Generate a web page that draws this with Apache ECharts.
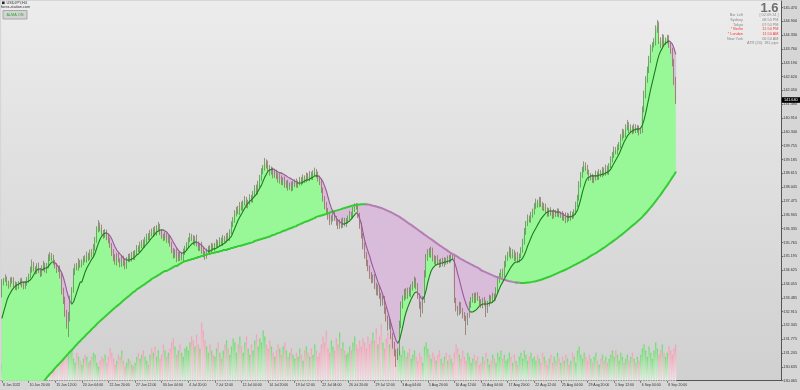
<!DOCTYPE html>
<html><head><meta charset="utf-8">
<script src="https://cdn.jsdelivr.net/npm/echarts@6/dist/echarts.min.js"></script>
<style>html,body{margin:0;padding:0;background:#d6d6d6;}#c{width:800px;height:390px;}</style>
</head><body><div id="c"></div>
<script>
// ---- DATA (USDJPY, H4) ----
const tickLabels = ['8 Jun 2022','10 Jun 20:00','15 Jun 12:00','20 Jun 04:00','22 Jun 20:00','27 Jun 12:00','30 Jun 04:00','4 Jul 20:00','7 Jul 12:00','12 Jul 04:00','14 Jul 20:00','19 Jul 12:00','22 Jul 04:00','26 Jul 20:00','29 Jul 12:00','3 Aug 04:00','5 Aug 20:00','10 Aug 12:00','15 Aug 04:00','17 Aug 20:00','22 Aug 12:00','25 Aug 04:00','29 Aug 20:00','1 Sep 12:00','6 Sep 04:00','8 Sep 20:00'];
const priceLabels = ['130.065','130.635','131.205','131.775','132.345','132.915','133.485','134.055','134.625','135.195','135.765','136.335','136.905','137.475','138.045','138.615','139.185','139.755','140.340','140.910','141.480','142.050','142.620','143.190','143.760','144.330','144.900','145.470'];
const firstOpen = 133.60;
const closes = [
134.13,134.22,134.30,134.09,134.01,134.18,134.26,134.05,133.89,133.97,134.09,134.18,134.05,133.93,134.09,134.22,
134.38,134.63,134.88,134.71,134.55,134.79,134.63,134.46,134.71,134.84,134.63,134.79,135.12,135.25,135.16,134.96,
134.79,134.63,134.71,134.42,133.80,133.39,132.90,132.36,132.65,133.39,133.80,134.55,134.79,134.71,134.96,134.84,
134.96,135.12,135.04,135.25,135.12,135.37,135.25,135.54,135.87,136.28,136.49,136.36,136.20,136.07,136.20,135.99,
135.87,135.66,135.37,135.12,134.96,135.25,135.04,134.88,135.12,134.96,134.79,135.04,135.21,135.08,135.29,135.16,
135.37,135.54,135.45,135.66,135.78,135.62,135.87,136.03,135.95,136.20,136.11,136.28,136.15,136.36,136.44,136.20,
136.03,135.95,136.07,135.87,135.95,135.70,135.45,135.25,135.37,135.12,135.29,135.12,135.21,135.37,135.54,135.66,
135.87,136.03,135.95,135.78,135.95,135.70,135.54,135.66,135.45,135.29,135.21,135.37,135.54,135.45,135.62,135.54,
135.66,135.78,135.70,135.87,135.74,135.95,135.87,136.03,135.95,136.20,136.49,136.69,136.94,137.10,137.02,137.31,
137.19,137.39,137.52,137.31,137.43,137.60,137.52,137.72,138.01,137.85,138.13,138.42,138.67,138.84,139.04,138.96,
138.84,138.67,138.75,138.55,138.67,138.51,138.34,138.42,138.26,138.34,138.13,138.22,138.05,138.13,138.01,138.18,
138.26,138.13,138.22,138.34,138.26,138.42,138.34,138.51,138.42,138.55,138.46,138.59,138.67,138.55,138.42,138.26,
137.93,137.60,137.31,137.10,136.86,136.61,136.77,136.94,136.77,136.61,136.44,136.61,136.49,136.69,136.53,136.65,
136.77,136.94,136.86,137.10,137.27,137.23,136.90,136.49,136.07,135.66,135.25,134.96,134.71,134.42,134.22,134.34,
134.01,133.72,133.89,133.56,133.31,133.47,132.98,132.65,132.32,132.48,131.95,131.54,131.25,131.08,131.25,132.36,
133.19,133.47,133.72,133.56,133.80,133.64,133.89,134.05,134.22,133.97,133.56,133.19,132.98,133.39,134.42,135.12,
135.37,135.25,135.45,135.12,134.96,135.12,134.96,134.84,135.00,134.88,135.04,134.96,135.12,135.04,135.21,135.16,
133.39,133.06,132.90,133.19,132.98,132.77,132.65,132.48,132.77,133.19,133.39,133.56,133.39,133.60,133.47,133.31,
133.19,133.39,133.27,132.98,133.23,133.47,133.39,133.56,133.47,133.80,134.22,134.38,134.55,134.42,134.84,135.12,
135.25,135.45,135.21,135.37,135.12,135.25,135.04,135.21,135.45,135.78,136.20,136.53,136.77,136.69,136.90,137.02,
137.27,137.43,137.31,137.52,137.35,137.19,137.27,137.10,136.94,137.10,136.98,136.86,137.02,136.94,137.06,136.90,
136.94,136.77,136.90,136.69,136.86,136.77,136.94,136.86,137.02,137.31,137.60,138.13,138.55,138.75,138.96,138.84,
138.67,138.42,138.51,138.34,138.42,138.59,138.46,138.67,138.55,138.75,138.63,138.84,138.67,138.92,139.17,139.37,
139.58,139.50,139.66,139.78,140.07,140.32,140.20,140.49,140.61,140.40,140.49,140.36,140.53,140.40,140.49,140.32,
140.40,141.23,141.85,142.46,142.88,143.29,143.78,143.91,144.03,144.53,144.73,144.11,143.91,144.20,144.03,144.11,
144.20,143.91,143.70,143.21,142.46,141.64];
// wick lengths above / below the body, in 0.01 JPY
const upWick = [
12,8,15,6,10,14,9,7,11,16,8,10,13,7,9,12,
10,14,18,9,7,12,15,8,11,17,9,13,16,12,8,10,
9,13,8,11,7,10,14,9,25,18,12,15,10,13,16,9,
11,8,12,14,9,10,13,16,12,15,20,10,14,8,12,9,
15,10,8,12,16,9,11,7,13,10,14,12,8,11,9,12,
8,12,10,14,9,11,13,10,12,8,14,11,16,12,17,9,
12,9,14,8,11,13,10,9,12,15,10,8,11,14,9,12,
10,13,9,12,8,14,11,9,13,10,12,15,9,11,13,10,
9,12,8,11,10,13,9,12,14,11,15,12,16,13,17,12,
14,11,16,12,10,15,13,17,12,14,18,13,16,12,21,15,
18,12,15,11,14,10,13,16,11,12,15,10,13,11,14,12,
11,14,10,13,12,15,11,14,12,16,13,15,18,12,14,10,
13,10,8,12,9,14,11,10,13,9,12,10,14,11,9,12,
10,13,9,14,11,12,15,9,11,8,10,12,9,11,13,10,
12,9,14,10,13,11,9,12,10,14,11,9,12,10,15,18,
14,11,13,16,10,12,15,11,14,9,12,10,13,16,20,17,
12,17,14,10,12,9,13,11,10,14,12,9,11,13,10,12,
14,10,9,13,11,8,12,10,9,14,12,11,13,10,12,9,
11,9,13,10,12,14,11,13,10,12,15,13,11,14,16,12,
13,15,10,12,9,11,13,10,12,14,16,12,15,11,13,14,
12,14,10,13,11,9,12,10,11,9,12,10,13,9,11,10,
10,12,9,11,13,10,12,9,11,14,13,16,12,14,15,11,
13,10,12,9,11,14,10,12,9,13,11,14,10,12,15,13,
14,12,15,13,16,14,11,15,21,12,14,10,13,11,12,10,
10,15,18,16,14,17,15,12,16,19,21,14,12,16,13,11,
13,11,10,9,12,14];
const dnWick = [
10,14,8,12,15,9,11,13,8,10,12,9,14,10,8,11,
12,9,11,14,10,8,13,12,9,11,10,14,9,12,15,11,
10,12,9,14,18,16,20,15,49,14,12,10,13,9,11,12,
10,13,9,11,12,8,10,9,12,11,10,14,12,15,11,13,
14,12,16,13,11,15,10,14,12,16,13,11,9,12,10,11,
12,10,9,11,13,10,8,12,9,11,10,12,9,10,11,13,
11,13,10,12,14,11,13,15,12,16,13,12,10,29,12,11,
10,9,12,11,14,10,12,13,15,14,16,12,11,13,10,12,
12,10,13,11,9,12,10,11,9,12,10,9,11,10,9,12,
11,13,10,12,14,11,10,12,9,13,11,10,12,9,11,14,
12,15,11,14,12,13,11,15,12,14,11,13,15,12,14,11,
13,10,12,11,14,9,12,10,11,13,10,12,9,11,14,13,
12,15,18,14,16,13,11,14,12,15,13,11,14,12,10,13,
11,9,12,10,8,11,13,16,14,18,15,17,13,16,14,12,
16,13,15,12,18,14,16,15,19,13,17,15,18,45,16,14,
13,15,11,14,12,10,13,11,15,14,12,16,29,14,12,10,
11,9,12,14,10,13,11,12,9,10,12,11,9,13,10,12,
12,14,16,13,15,14,12,53,13,11,12,10,13,12,11,14,
12,14,11,29,12,10,13,11,14,10,9,12,10,11,9,10,
11,9,12,10,13,11,12,10,9,11,10,12,9,10,11,12,
10,12,11,9,12,10,13,11,12,10,11,13,10,12,11,10,
12,10,11,13,10,12,11,13,10,12,9,11,10,12,9,11,
10,12,9,11,13,10,12,11,9,10,12,11,10,12,9,11,
12,10,11,9,12,10,13,11,10,12,11,13,10,12,11,14,
8,12,10,14,11,13,12,15,10,14,12,16,13,11,14,12,
14,12,16,18,20,16];
const fastMA = [
132.65,132.90,133.14,133.39,133.56,133.68,133.80,133.89,133.97,134.01,134.05,134.09,134.13,134.13,134.13,134.13,
134.18,134.22,134.30,134.42,134.55,134.63,134.67,134.67,134.63,134.67,134.71,134.71,134.79,134.88,134.96,134.96,
134.92,134.84,134.75,134.63,134.51,134.30,134.05,133.76,133.51,133.31,133.23,133.31,133.51,133.72,133.93,134.13,
134.13,134.34,134.55,134.71,134.84,134.96,135.08,135.17,135.33,135.54,135.74,135.91,136.03,136.11,136.15,136.15,
136.11,136.03,135.91,135.74,135.58,135.45,135.37,135.29,135.21,135.12,135.08,135.04,135.04,135.04,135.08,135.12,
135.17,135.25,135.29,135.37,135.45,135.54,135.62,135.70,135.78,135.87,135.95,136.03,136.11,136.20,136.24,136.28,
136.28,136.28,136.24,136.20,136.11,136.03,135.91,135.78,135.66,135.54,135.45,135.37,135.33,135.33,135.37,135.45,
135.54,135.62,135.70,135.74,135.78,135.78,135.74,135.70,135.66,135.58,135.50,135.45,135.41,135.41,135.45,135.50,
135.50,135.54,135.58,135.62,135.66,135.70,135.74,135.83,135.87,135.95,136.03,136.20,136.36,136.53,136.69,136.82,
136.94,137.06,137.19,137.31,137.39,137.47,137.52,137.60,137.68,137.76,137.89,138.01,138.13,138.30,138.46,138.59,
138.71,138.75,138.79,138.79,138.75,138.71,138.67,138.63,138.63,138.59,138.55,138.51,138.46,138.42,138.38,138.34,
138.30,138.26,138.22,138.22,138.22,138.26,138.30,138.34,138.34,138.38,138.42,138.46,138.51,138.51,138.51,138.46,
138.38,138.26,138.09,137.89,137.64,137.39,137.19,137.02,136.90,136.77,136.69,136.61,136.57,136.53,136.53,136.57,
136.61,136.65,136.73,136.82,136.90,136.98,136.94,136.77,136.53,136.20,135.87,135.62,135.41,135.21,134.96,134.75,
134.55,134.34,134.13,133.97,133.80,133.60,133.39,133.14,132.90,132.65,132.40,132.15,131.91,131.70,131.62,131.74,
132.03,132.32,132.65,132.90,133.10,133.27,133.43,133.56,133.68,133.72,133.68,133.60,133.47,133.43,133.56,133.80,
134.13,134.38,134.59,134.71,134.79,134.84,134.88,134.88,134.92,134.92,134.96,134.96,135.00,135.00,135.04,135.08,
134.96,134.75,134.46,134.22,133.93,133.68,133.43,133.23,133.06,132.94,132.90,132.90,132.94,132.98,133.06,133.14,
133.19,133.23,133.23,133.23,133.23,133.27,133.27,133.31,133.39,133.51,133.68,133.85,134.01,134.13,134.26,134.38,
134.51,134.63,134.75,134.84,134.92,134.96,134.96,135.00,135.04,135.12,135.25,135.41,135.62,135.78,135.95,136.11,
136.24,136.36,136.49,136.61,136.73,136.82,136.90,136.98,137.02,137.06,137.06,137.06,137.06,137.02,137.02,137.02,
136.98,136.94,136.90,136.86,136.82,136.82,136.82,136.86,136.90,136.98,137.10,137.31,137.56,137.85,138.09,138.30,
138.42,138.46,138.51,138.51,138.51,138.51,138.51,138.55,138.55,138.59,138.59,138.63,138.67,138.71,138.79,138.92,
139.04,139.17,139.29,139.41,139.58,139.74,139.91,140.03,140.16,140.24,140.32,140.36,140.40,140.44,140.44,140.44,
140.49,140.61,140.82,141.10,141.43,141.76,142.09,142.38,142.67,142.96,143.25,143.50,143.66,143.78,143.91,143.99,
144.03,144.07,144.03,143.95,143.78,143.54];
const slowMA = [
127.99,128.07,128.16,128.24,128.32,128.40,128.48,128.57,128.65,128.73,128.81,128.90,128.98,129.06,129.14,129.23,
129.31,129.39,129.47,129.56,129.64,129.70,129.78,129.87,129.95,130.03,130.11,130.20,130.28,130.36,130.42,130.51,
130.59,130.67,130.73,130.81,130.88,130.96,131.04,131.12,131.19,131.27,131.33,131.41,131.49,131.56,131.64,131.70,
131.78,131.84,131.91,131.99,132.05,132.11,132.20,132.26,132.32,132.40,132.46,132.53,132.59,132.65,132.71,132.77,
132.84,132.90,132.96,133.02,133.08,133.14,133.19,133.25,133.31,133.37,133.43,133.49,133.54,133.60,133.66,133.72,
133.76,133.83,133.87,133.91,133.97,134.01,134.05,134.11,134.15,134.20,134.26,134.30,134.34,134.38,134.42,134.46,
134.51,134.55,134.59,134.59,134.63,134.67,134.71,134.75,134.79,134.79,134.84,134.88,134.92,134.96,135.00,135.00,
135.04,135.04,135.08,135.08,135.12,135.12,135.17,135.17,135.21,135.21,135.25,135.25,135.29,135.29,135.33,135.33,
135.35,135.37,135.37,135.41,135.41,135.45,135.45,135.45,135.50,135.50,135.54,135.54,135.58,135.58,135.62,135.62,
135.64,135.66,135.68,135.70,135.72,135.74,135.76,135.78,135.83,135.85,135.87,135.89,135.91,135.93,135.95,135.97,
135.99,136.01,136.05,136.07,136.09,136.13,136.15,136.17,136.20,136.24,136.26,136.28,136.32,136.34,136.36,136.40,
136.42,136.44,136.49,136.51,136.55,136.57,136.61,136.63,136.65,136.69,136.71,136.75,136.77,136.82,136.84,136.86,
136.88,136.90,136.92,136.94,136.96,137.00,137.02,137.04,137.06,137.08,137.10,137.12,137.14,137.17,137.19,137.21,
137.23,137.25,137.27,137.29,137.30,137.31,137.32,137.33,137.34,137.34,137.34,137.34,137.33,137.32,137.30,137.28,
137.27,137.25,137.23,137.21,137.19,137.16,137.13,137.10,137.07,137.04,137.01,136.97,136.93,136.89,136.86,136.82,
136.77,136.73,136.68,136.63,136.58,136.53,136.49,136.44,136.39,136.34,136.29,136.24,136.19,136.14,136.09,136.04,
135.99,135.94,135.90,135.85,135.80,135.75,135.70,135.65,135.61,135.56,135.51,135.47,135.42,135.37,135.33,135.29,
135.25,135.21,135.17,135.12,135.08,135.05,135.01,134.97,134.93,134.90,134.86,134.83,134.79,134.76,134.73,134.69,
134.62,134.59,134.56,134.53,134.50,134.47,134.44,134.41,134.38,134.35,134.33,134.30,134.28,134.25,134.23,134.21,
134.19,134.17,134.16,134.14,134.13,134.11,134.11,134.10,134.09,134.09,134.09,134.10,134.11,134.11,134.13,134.14,
134.16,134.17,134.19,134.21,134.23,134.25,134.28,134.30,134.33,134.35,134.38,134.41,134.44,134.47,134.50,134.53,
134.56,134.59,134.62,134.65,134.69,134.72,134.76,134.79,134.83,134.86,134.90,134.93,134.97,135.01,135.05,135.08,
135.12,135.17,135.21,135.25,135.29,135.33,135.37,135.42,135.46,135.51,135.55,135.60,135.65,135.70,135.75,135.80,
135.85,135.90,135.95,136.01,136.06,136.11,136.17,136.23,136.28,136.34,136.40,136.46,136.51,136.57,136.63,136.69,
136.75,136.82,136.90,136.97,137.05,137.13,137.21,137.29,137.38,137.47,137.56,137.65,137.74,137.84,137.94,138.04,
138.13,138.24,138.34,138.45,138.55,138.66];
// tick volume, thousands
const volumes = [
8,10,14,12,9,6,7,10,13,15,11,8,6,9,12,16,
14,11,8,10,13,15,12,7,6,9,12,14,16,11,8,7,
10,13,17,15,12,14,18,16,13,17,15,11,9,14,12,10,
8,11,13,12,9,10,12,14,13,9,7,10,12,11,13,9,
12,16,14,11,8,10,13,12,15,10,7,9,11,10,8,7,
9,12,14,11,13,15,12,10,8,13,16,14,17,12,15,11,
13,18,15,12,14,16,19,21,17,13,15,18,14,12,16,17,
15,19,22,20,17,23,18,16,29,25,20,17,14,18,15,13,
12,16,19,14,11,15,18,20,16,13,17,21,19,14,18,22,
17,14,19,22,16,13,18,15,20,23,17,21,19,25,22,18,
16,20,17,14,12,15,18,16,13,17,19,15,12,14,16,13,
11,14,12,16,13,10,15,17,14,12,16,13,18,15,12,14,
18,22,19,25,16,14,20,17,15,21,18,24,16,19,15,13,
14,17,15,19,22,18,16,20,17,21,19,16,22,18,20,24,
20,26,18,22,28,19,16,21,24,18,23,20,27,22,17,15,
13,17,15,12,14,16,11,13,15,12,10,14,12,9,17,19,
16,13,11,14,12,10,13,15,11,9,12,14,10,13,11,9,
14,18,16,13,11,15,12,10,14,12,9,11,13,10,12,8,
9,12,10,14,11,8,10,13,11,9,14,12,15,11,13,10,
11,14,12,9,13,10,8,12,14,11,15,13,10,12,14,11,
12,10,13,11,9,14,12,10,8,11,13,9,12,10,14,11,
9,12,10,13,11,8,10,14,12,9,15,17,13,11,14,12,
10,13,11,9,12,14,10,8,11,13,10,12,9,11,13,15,
12,15,13,10,14,12,9,11,13,10,12,14,11,9,12,10,
13,16,18,15,12,17,14,11,15,19,16,13,15,18,14,12,
14,17,15,13,16,18];
const infoRows = [['Bar Left','[ 02:09:24 ]',false],['Sydney','08:50 PM',false],['Tokyo','07:50 PM',false],['* Berlin','12:50 PM',true],['* London','11:50 AM',true],['New York','06:50 AM',false]];
const atrText = 'ATR (20): 181 pips';
const spreadText = '1.6';

// ---- CHART ----
const FONT = 'Liberation Sans';
const SLOTS = 469, LABEL_EVERY = 16;
const PRICE_MIN = 130.065, PRICE_MAX = 145.723, LABEL_STEP = 0.57;
const cats = Array.from({length: SLOTS}, (_, i) => String(i));
const N = closes.length;
const opens = closes.map((c, i) => i === 0 ? firstOpen : closes[i - 1]);
const candleData = closes.map((c, i) => {
  const o = opens[i];
  return [o, c, Math.min(o, c) - dnWick[i] / 100, Math.max(o, c) + upWick[i] / 100];
});
const gUp = new echarts.graphic.LinearGradient(0, 0, 0, 1, [{offset: 0, color: '#6fdc6f'}, {offset: 1, color: '#e4f4e4'}]);
const gDn = new echarts.graphic.LinearGradient(0, 0, 0, 1, [{offset: 0, color: '#f3a0b5'}, {offset: 1, color: '#f4e4e8'}]);
const volData = volumes.map((v, i) => ({value: v, itemStyle: {color: closes[i] >= opens[i] ? gUp : gDn}}));

function bandPolys(api, A, B, colPos, colNeg) {
  const n = Math.min(A.length, B.length);
  const pa = [], pb = [];
  for (let i = 0; i < n; i++) { pa.push(api.coord([i, A[i]])); pb.push(api.coord([i, B[i]])); }
  const out = [];
  let sign = Math.sign(A[0] - B[0]) || 1;
  let ra = [pa[0]], rb = [pb[0]];
  const flush = (s) => {
    const c = s > 0 ? colPos : colNeg;
    out.push({type: 'polygon', silent: true, shape: {points: ra.concat(rb.slice().reverse())}, style: {fill: c, stroke: c, lineWidth: 0.4}});
  };
  for (let i = 1; i < n; i++) {
    const d0 = A[i - 1] - B[i - 1], d1 = A[i] - B[i];
    const s1 = Math.sign(d1) || sign;
    if (s1 !== sign) {
      const t = (d0 - d1) !== 0 ? d0 / (d0 - d1) : 0;
      const p = [pa[i - 1][0] + t * (pa[i][0] - pa[i - 1][0]), pa[i - 1][1] + t * (pa[i][1] - pa[i - 1][1])];
      ra.push(p); rb.push(p);
      flush(sign);
      ra = [p]; rb = [p]; sign = s1;
    }
    ra.push(pa[i]); rb.push(pb[i]);
  }
  flush(sign);
  return out;
}
function slopeLines(api, V, up, down, w) {
  const p = V.map((v, i) => api.coord([i, v]));
  const out = [];
  let run = [p[0]], dir = null;
  const mk = (pts, d) => ({type: 'polyline', silent: true, shape: {points: pts}, style: {stroke: d > 0 ? up : down, lineWidth: w, fill: null, lineJoin: 'round', lineCap: 'round'}});
  for (let i = 1; i < V.length; i++) {
    const d = V[i] >= V[i - 1] ? 1 : -1;
    if (dir !== null && d !== dir) { out.push(mk(run, dir)); run = [p[i - 1]]; }
    dir = d; run.push(p[i]);
  }
  out.push(mk(run, dir));
  return out;
}
function customGroup(z, builder) {
  return {type: 'custom', coordinateSystem: 'cartesian2d', xAxisIndex: 0, yAxisIndex: 0, clip: true, silent: true, z: z,
    data: [[0, closes[0]]], renderItem: (params, api) => ({type: 'group', children: builder(api)})};
}
const GREEN_FILL = '#98f898', PURPLE_FILL = '#d9bcd9';
const isLabelIdx = (i) => i % LABEL_EVERY === 0 && i / LABEL_EVERY < tickLabels.length;

const grid = {left: 0, top: 1, width: SLOTS * 5 / 3, height: 379.7, show: true, borderWidth: 0,
  backgroundColor: {type: 'linear', x: 0, y: 0, x2: 0, y2: 1, colorStops: [{offset: 0, color: '#ececec'}, {offset: 1, color: '#d0d0d0'}]}};

const texts = [];
texts.push({type: 'rect', id: 'icon', shape: {x: 2, y: 1.5, width: 2.6, height: 2.6}, style: {fill: '#222'}, z: 100});
texts.push({type: 'text', id: 't1', x: 6.5, y: 2.8, style: {text: 'USDJPY,H4', font: '3.8px ' + FONT, fill: '#333', verticalAlign: 'middle'}, z: 100});
texts.push({type: 'text', id: 't2', x: 1, y: 6.6, style: {text: 'forex-station.com', font: '3.8px ' + FONT, fill: '#333', verticalAlign: 'middle'}, z: 100});
texts.push({type: 'rect', id: 'btn', shape: {x: 3, y: 10.5, width: 24, height: 8.5}, style: {fill: '#d3d3d3', stroke: '#9a9a9a', lineWidth: 0.8}, z: 100});
texts.push({type: 'text', id: 'btnt', x: 15, y: 14.8, style: {text: 'ALMA ON', font: '3.8px ' + FONT, fill: '#2ea82e', align: 'center', verticalAlign: 'middle'}, z: 101});
texts.push({type: 'text', id: 'spr', x: 778.5, y: 8.5, style: {text: spreadText, font: 'bold 13px ' + FONT, fill: '#6f6f6f', align: 'right', verticalAlign: 'middle'}, z: 100});
infoRows.forEach((r, k) => {
  const col = r[2] ? '#ff3636' : '#8a8a8a';
  const y = 15.3 + k * 4.67;
  texts.push({type: 'text', id: 'il' + k, x: 743, y: y, style: {text: r[0], font: '3.8px ' + FONT, fill: col, align: 'right', verticalAlign: 'middle'}, z: 100});
  texts.push({type: 'text', id: 'iv' + k, x: 778.5, y: y, style: {text: r[1], font: '3.8px ' + FONT, fill: col, align: 'right', verticalAlign: 'middle'}, z: 100});
});
texts.push({type: 'text', id: 'atr', x: 778.5, y: 15.3 + 6 * 4.67, style: {text: atrText, font: '3.8px ' + FONT, fill: '#8a8a8a', align: 'right', verticalAlign: 'middle'}, z: 100});

const chart = echarts.init(document.getElementById('c'), null, {renderer: 'canvas', width: 800, height: 390});
chart.setOption({
  animation: false,
  backgroundColor: '#d6d6d6',
  grid: grid,
  xAxis: {type: 'category', data: cats, boundaryGap: true,
    axisLine: {show: true, lineStyle: {color: '#555', width: 1}},
    axisTick: {show: true, alignWithLabel: true, length: 2, interval: (i) => isLabelIdx(i), lineStyle: {color: '#555', width: 0.8}},
    axisLabel: {show: true, interval: (i) => isLabelIdx(i), formatter: (v, i) => isLabelIdx(i) ? tickLabels[i / LABEL_EVERY] : '',
      fontSize: 3.5, fontFamily: FONT, color: '#333', align: 'left', margin: 2, padding: [0, 0, 0, 1]},
    splitLine: {show: false}},
  yAxis: [
    {type: 'value', min: PRICE_MIN, max: PRICE_MAX, show: false, scale: true},
    {type: 'value', position: 'right', min: 0, max: PRICE_MAX - PRICE_MIN, interval: LABEL_STEP,
      axisLine: {show: true, lineStyle: {color: '#555', width: 1}},
      axisTick: {show: true, length: 2, lineStyle: {color: '#555', width: 0.8}},
      axisLabel: {show: true, showMaxLabel: false, margin: 2, fontSize: 3.8, fontFamily: FONT, color: '#333',
        formatter: (v) => { const k = Math.round(v / LABEL_STEP); return Math.abs(v - k * LABEL_STEP) < 0.01 && priceLabels[k] ? priceLabels[k] : ''; }},
      splitLine: {show: false}},
    {type: 'value', min: 0, max: 189.35, show: false}
  ],
  series: [
    {type: 'bar', xAxisIndex: 0, yAxisIndex: 2, data: volData, barWidth: 1.3, z: 1, silent: true},
    customGroup(2, (api) => bandPolys(api, fastMA, slowMA, GREEN_FILL, PURPLE_FILL)),
    customGroup(3, (api) => bandPolys(api, closes, fastMA, GREEN_FILL, PURPLE_FILL)),
    {type: 'candlestick', xAxisIndex: 0, yAxisIndex: 0, data: candleData, barWidth: 1.1, z: 4, silent: true,
      itemStyle: {color: '#3a8f3a', color0: '#a5523a', borderColor: '#5b7d52', borderColor0: '#8a6353', borderWidth: 0.7}},
    customGroup(5, (api) => slopeLines(api, slowMA, '#33cc33', '#b57db5', 2)),
    customGroup(6, (api) => slopeLines(api, fastMA, '#1f7a1f', '#9a589a', 1.1))
  ],
  graphic: texts
});
const lastClose = closes[N - 1];
const py = chart.convertToPixel({yAxisIndex: 0}, lastClose);
chart.setOption({graphic: [
  {type: 'rect', id: 'pbox', shape: {x: 781.7, y: py - 2.8, width: 18.3, height: 5.6}, style: {fill: '#000'}, z: 100},
  {type: 'text', id: 'pboxt', x: 790.8, y: py, style: {text: lastClose.toFixed(3), font: '3.8px ' + FONT, fill: '#fff', align: 'center', verticalAlign: 'middle'}, z: 101}
]});
</script></body></html>
